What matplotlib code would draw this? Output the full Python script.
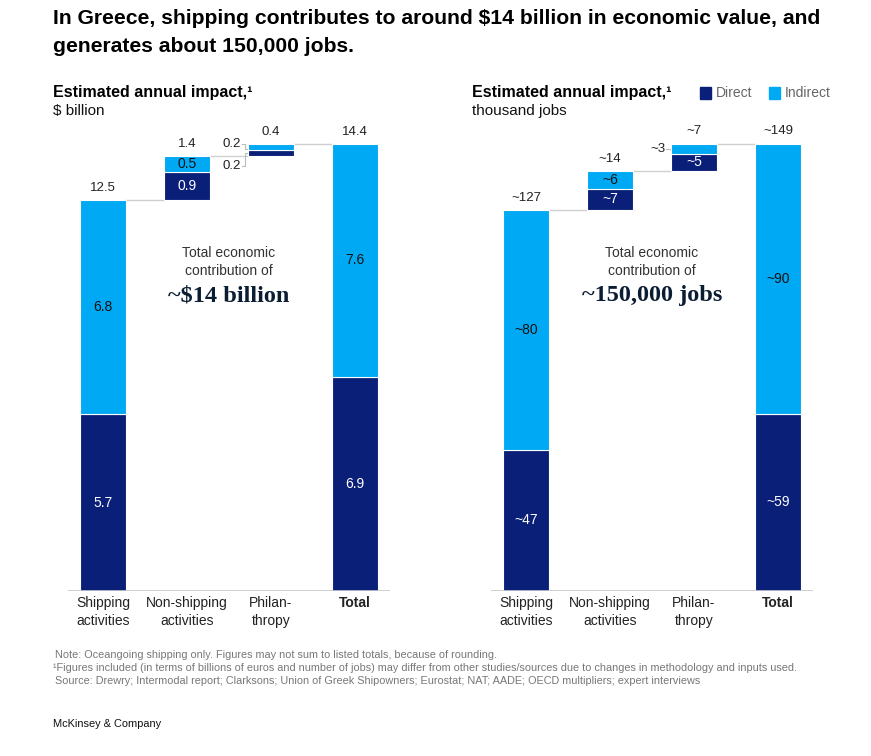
import matplotlib
matplotlib.use("Agg")
import matplotlib.pyplot as plt
import numpy as np

plt.rcParams['font.family'] = ['Liberation Sans', 'DejaVu Sans']

W, H = 871, 756
DARK = '#0A1F78'
LIGHT = '#00A9F4'
GRID = '#D0D0D0'
TXT = '#222222'

categories = ["Shipping\nactivities", "Non-shipping\nactivities", "Philan-\nthropy", "Total"]

# Left chart: $ billion (drawn heights, labels as printed)
usd_direct = [5.7, 0.9, 0.2, 6.9]
usd_indirect = [6.9, 0.5, 0.2, 7.5]
usd_direct_lbl = ["5.7", "0.9", "0.2", "6.9"]
usd_indirect_lbl = ["6.8", "0.5", "0.2", "7.6"]
usd_total_lbl = ["12.5", "1.4", "0.4", "14.4"]

# Right chart: thousand jobs
jobs_direct = [47, 7, 5.7, 59]
jobs_indirect = [80, 6, 3.3, 90]
jobs_direct_lbl = ["~47", "~7", "~5", "~59"]
jobs_indirect_lbl = ["~80", "~6", "~3", "~90"]
jobs_total_lbl = ["~127", "~14", "~7", "~149"]

fig = plt.figure(figsize=(W / 100, H / 100), dpi=100)

def fx(px):
    return px / W

def fy(py):
    return 1 - py / H

BW = 0.548
XL = (-0.417, 3.417)
AX_TOP = 94.4
AX_BOT = 591.0


def afy(py):
    return (AX_BOT - py) / (AX_BOT - AX_TOP)


def waterfall(ax, direct, indirect, dlbl, ilbl, tlbl, ymax, outside_idx, big_text):
    n = len(direct)
    bases = []
    cur = 0.0
    for i in range(n):
        if i == n - 1:
            bases.append(0.0)
        else:
            bases.append(cur)
            cur += direct[i] + indirect[i]
    x = np.arange(n)
    ax.bar(x, direct, BW, bottom=bases, color=DARK, edgecolor='white', linewidth=0.8, zorder=3)
    ax.bar(x, indirect, BW, bottom=np.array(bases) + np.array(direct), color=LIGHT,
           edgecolor='white', linewidth=0.8, zorder=3)
    tops = [bases[i] + direct[i] + indirect[i] for i in range(n)]
    for i in range(n - 1):
        ax.plot([i + BW / 2, i + 1 - BW / 2], [tops[i], tops[i]], color=GRID, lw=1.0, zorder=2)
    ax.axhline(0, color='#C8C8CC', lw=1.2, zorder=4)
    off = ymax * 0.025
    for i in range(n):
        ax.text(i, tops[i] + off, tlbl[i], ha='center', va='center', fontsize=9.5, color=TXT)
        if i in outside_idx:
            continue
        ax.text(i, bases[i] + direct[i] / 2, dlbl[i], ha='center', va='center',
                fontsize=10, color='white', zorder=5)
        ax.text(i, bases[i] + direct[i] + indirect[i] / 2, ilbl[i], ha='center', va='center',
                fontsize=10, color='#111111', zorder=5)
    ax.set_xlim(*XL)
    ax.set_ylim(0, ymax)
    ax.set_xticks(x)
    ax.set_xticklabels([])
    for s in ax.spines.values():
        s.set_visible(False)
    ax.tick_params(left=False, bottom=False, labelleft=False)
    ax.set_facecolor('none')
    for i, c in enumerate(categories):
        ax.text(i, afy(596), c, ha='center', va='top', fontsize=10, color=TXT,
                fontweight='bold' if i == n - 1 else 'normal', linespacing=1.38,
                transform=ax.get_xaxis_transform(), clip_on=False)
    ax.text(1.5, afy(262), "Total economic\ncontribution of", ha='center', va='center',
            fontsize=10, color='#333333', linespacing=1.35, transform=ax.get_xaxis_transform())
    ax.text(1.5, afy(296), big_text, ha='center', va='center', fontsize=17.5,
            fontweight='bold', family='Liberation Serif', color='#0B1D33',
            transform=ax.get_xaxis_transform())
    return bases, tops


ax_h = (AX_BOT - AX_TOP) / H
axL = fig.add_axes([fx(68), fy(AX_BOT), 322 / W, ax_h])
bL, tL = waterfall(axL, usd_direct, usd_indirect, usd_direct_lbl, usd_indirect_lbl,
                   usd_total_lbl, 16.0, [2], "~$14 billion")
i = 2
yd = bL[i] + usd_direct[i] / 2
yi = bL[i] + usd_direct[i] + usd_indirect[i] / 2
xe = i - BW / 2
axL.text(xe - 0.09, yi + 0.1, usd_indirect_lbl[i], ha='right', va='center', fontsize=9.5, color=TXT)
axL.text(xe - 0.09, yd - 0.42, usd_direct_lbl[i], ha='right', va='center', fontsize=9.5, color=TXT)
axL.plot([xe - 0.07, xe - 0.03, xe - 0.03, xe], [yi + 0.1, yi + 0.1, yi - 0.05, yi - 0.05],
         color='#BBBBBB', lw=0.8)
axL.plot([xe - 0.07, xe - 0.03, xe - 0.03, xe], [yd - 0.42, yd - 0.42, yd, yd],
         color='#BBBBBB', lw=0.8)

axR = fig.add_axes([fx(491), fy(AX_BOT), 322 / W, ax_h])
bR, tR = waterfall(axR, jobs_direct, jobs_indirect, jobs_direct_lbl, jobs_indirect_lbl,
                   jobs_total_lbl, 165.5, [2], "~150,000 jobs")
i = 2
yd = bR[i] + jobs_direct[i] / 2
yi = bR[i] + jobs_direct[i] + jobs_indirect[i] / 2
axR.text(i, yd, jobs_direct_lbl[i], ha='center', va='center', fontsize=10, color='white', zorder=5)
xe = i - BW / 2
axR.text(xe - 0.07, yi, jobs_indirect_lbl[i], ha='right', va='center', fontsize=9.5, color=TXT)
axR.plot([xe - 0.06, xe], [yi, yi], color='#BBBBBB', lw=0.8)

# Titles
fig.text(fx(53), fy(18), "In Greece, shipping contributes to around $14 billion in economic value, and",
         fontsize=15.2, fontweight='bold', color='#000000', va='center', ha='left')
fig.text(fx(53), fy(46), "generates about 150,000 jobs.",
         fontsize=15.2, fontweight='bold', color='#000000', va='center', ha='left')

fig.text(fx(53), fy(92), "Estimated annual impact,¹", fontsize=11.5, fontweight='bold',
         color='#000000', va='center')
fig.text(fx(53), fy(111), "$ billion", fontsize=11, color='#111111', va='center')
fig.text(fx(472), fy(92), "Estimated annual impact,¹", fontsize=11.5, fontweight='bold',
         color='#000000', va='center')
fig.text(fx(472), fy(111), "thousand jobs", fontsize=11, color='#111111', va='center')

# Legend
fig.patches.append(plt.Rectangle((fx(700), fy(99)), 11 / W, 12 / H, color=DARK,
                                 transform=fig.transFigure, figure=fig))
fig.text(fx(716), fy(93), "Direct", fontsize=10, color='#666666', va='center')
fig.patches.append(plt.Rectangle((fx(769), fy(99)), 11 / W, 12 / H, color=LIGHT,
                                 transform=fig.transFigure, figure=fig))
fig.text(fx(785), fy(93), "Indirect", fontsize=10, color='#666666', va='center')

# Footnotes
fn_col = '#777777'
fig.text(fx(55), fy(655), "Note: Oceangoing shipping only. Figures may not sum to listed totals, because of rounding.",
         fontsize=7.85, color=fn_col, va='center')
fig.text(fx(53), fy(668), "¹Figures included (in terms of billions of euros and number of jobs) may differ from other studies/sources due to changes in methodology and inputs used.",
         fontsize=7.85, color=fn_col, va='center')
fig.text(fx(55), fy(681), "Source: Drewry; Intermodal report; Clarksons; Union of Greek Shipowners; Eurostat; NAT; AADE; OECD multipliers; expert interviews",
         fontsize=7.85, color=fn_col, va='center')
fig.text(fx(53), fy(724), "McKinsey & Company", fontsize=7.9, color='#111111', va='center')

fig.savefig("out.png", dpi=100)
